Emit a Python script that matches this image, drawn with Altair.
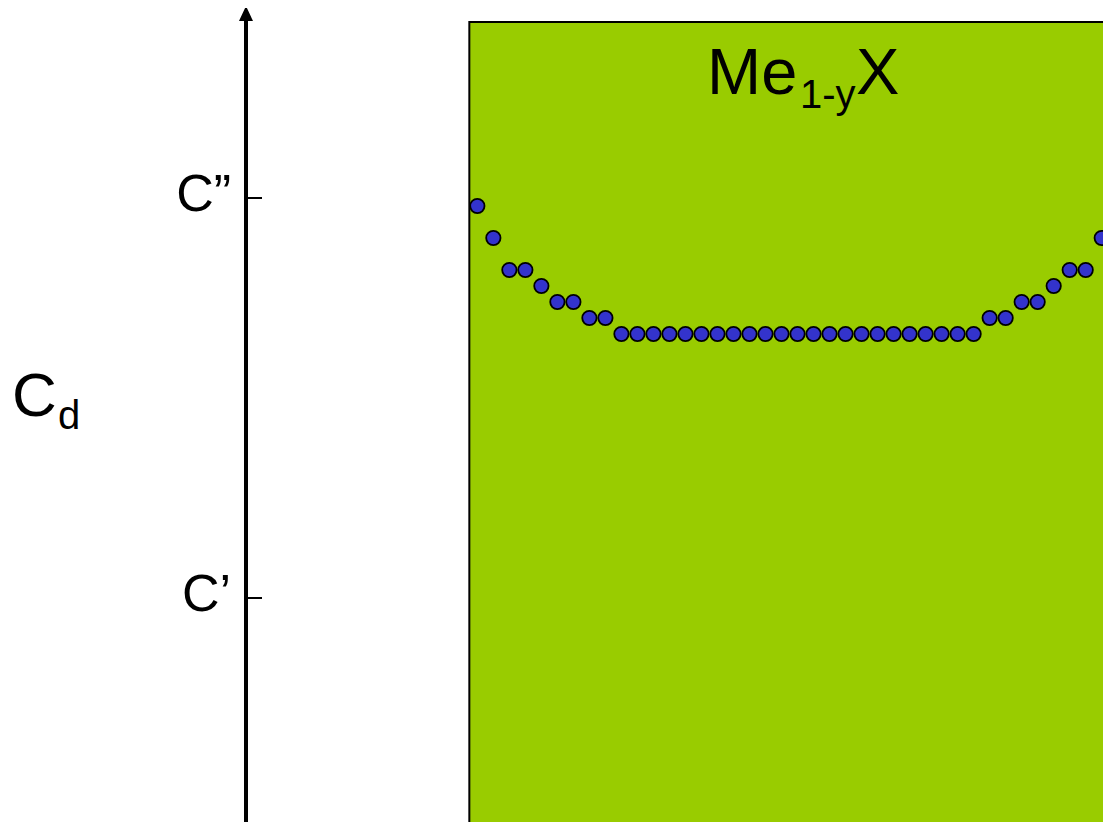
import altair as alt
import pandas as pd

# ---- data ----
site = list(range(41))
cd = ([1.98, 1.90, 1.82, 1.82, 1.78, 1.74, 1.74, 1.70, 1.70]
      + [1.66] * 23
      + [1.70, 1.70, 1.74, 1.74, 1.78, 1.82, 1.82, 1.90, 1.98])
tick_values = [1, 2]
tick_labels = ["C’", "C”"]
crystal_x = [-0.5, 45]
crystal_y = [2.44, 0.0]

FONT = "Liberation Sans"
GREEN = "#99CC00"
BLUE = "#3333CC"

xs = alt.Scale(domain=[-14.45, 39.08], nice=False, zero=False)
ys = alt.Scale(domain=[0.44, 2.47], nice=False, zero=False)

dots_df = pd.DataFrame({"site": site, "cd": cd})
ticks_df = pd.DataFrame({"v": tick_values, "label": tick_labels})
rect_df = pd.DataFrame({"x": [crystal_x[0]], "x2": [crystal_x[1]],
                        "y": [crystal_y[0]], "y2": [crystal_y[1]]})
one = pd.DataFrame({"a": [0]})

crystal = alt.Chart(rect_df).mark_rect(
    color=GREEN, stroke="black", strokeWidth=2, clip=True
).encode(
    x=alt.X("x:Q", scale=xs, axis=None), x2="x2:Q",
    y=alt.Y("y:Q", scale=ys, axis=None), y2="y2:Q",
)

dots = alt.Chart(dots_df).mark_circle(
    color=BLUE, stroke="black", strokeWidth=1.8, size=205, opacity=1, clip=True
).encode(
    x=alt.X("site:Q", scale=xs, axis=None),
    y=alt.Y("cd:Q", scale=ys, axis=None),
)

shaft = alt.Chart(one).mark_rule(color="black", strokeWidth=4).encode(
    x=alt.value(0), y=alt.value(812), y2=alt.value(6)
)

head = alt.Chart(one).mark_point(
    shape="M0,-1.07L1,1.07L-1,1.07Z", filled=True, color="black",
    size=196, opacity=1
).encode(x=alt.value(0), y=alt.value(3.5))

ticks = alt.Chart(ticks_df).mark_rule(color="black", strokeWidth=2).encode(
    y=alt.Y("v:Q", scale=ys, axis=None), x=alt.value(0), x2=alt.value(16)
)

tick_text = alt.Chart(ticks_df).mark_text(
    align="right", baseline="middle", font=FONT, fontSize=52, color="black", dy=-3
).encode(
    y=alt.Y("v:Q", scale=ys, axis=None), x=alt.value(-15), text="label:N"
)

def txt(s, x, y, size, align="left"):
    return alt.Chart(one).mark_text(
        align=align, baseline="alphabetic", font=FONT, fontSize=size, color="black"
    ).encode(x=alt.value(x), y=alt.value(y), text=alt.value(s))

title_me = txt("Me", 461, 84, 65)
title_sub = txt("1-y", 554, 98, 40)
title_x = txt("X", 610, 84, 65)
cd_c = txt("C", -234, 406, 62)
cd_d = txt("d", -188, 419, 40)

chart = alt.layer(
    crystal, dots, shaft, head, ticks, tick_text,
    title_me, title_sub, title_x, cd_c, cd_d
).properties(
    width=857, height=812,
    autosize=alt.AutoSizeParams(type="none"),
    padding={"left": 238, "top": 2, "right": 0, "bottom": 0},
    background="white",
).configure_view(stroke=None)

chart.save("out.html", embed_options={"renderer": "svg", "actions": False})
